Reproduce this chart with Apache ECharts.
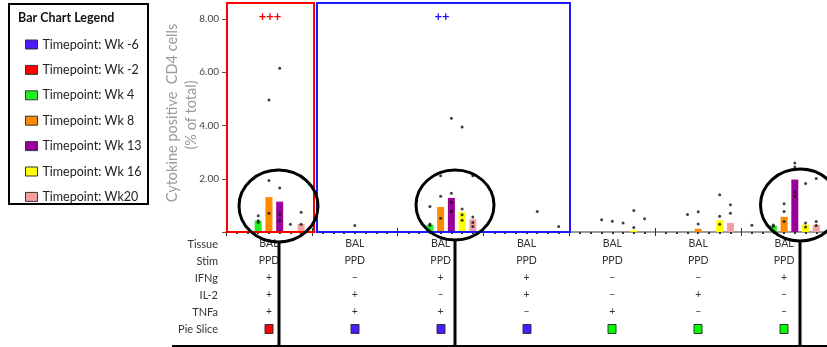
<!DOCTYPE html>
<html><head><meta charset="utf-8">
<script src="https://cdn.jsdelivr.net/npm/echarts@6/dist/echarts.min.js"></script>
<style>html,body{margin:0;padding:0;background:#fff}#c{width:827px;height:347px}</style>
</head><body><div id="c"></div>
<script>
// ---- data ----
const timepoints = ['Timepoint: Wk -6','Timepoint: Wk -2','Timepoint: Wk 4','Timepoint: Wk 8','Timepoint: Wk 13','Timepoint: Wk 16','Timepoint: Wk20'];
const groupCount = 7;
// bar (median) values per group
const medWkM6 = [0,0,0,0,0,0,0];
const medWkM2 = [0,0,0,0,0,0,0];
const medWk4  = [0.43,0,0.27,0,0,0,0.24];
const medWk8  = [1.31,0,0.94,0,0,0.12,0.57];
const medWk13 = [1.14,0,1.28,0,0,0,1.97];
const medWk16 = [0,0,0.75,0,0.06,0.44,0.27];
const medWk20 = [0.30,0,0.48,0,0,0.34,0.27];
// individual points per group
const dotsWkM6 = [[],[],[],[],[],[],[0.25]];
const dotsWkM2 = [[],[],[],[],[],[],[]];
const dotsWk4  = [[0.61,0.42,0.36],[],[0.96,0.30,0.25],[],[0.46],[0.66],[0.26,0.22]];
const dotsWk8  = [[4.96,1.93,0.70],[0.24],[2.11,1.34,0.52],[],[0.40],[0.76,0.30],[1.06,0.77,0.39]];
const dotsWk13 = [[6.15,1.65,0.67,0.42],[],[4.27,1.46,1.12,0.77],[0.77],[0.34],[],[2.59,2.44,1.50,1.34]];
const dotsWk16 = [[0.29],[],[3.94,0.86,0.65,0.44],[],[0.81,0.17],[1.40,0.59,0.29],[1.82,0.34,0.19]];
const dotsWk20 = [[0.74,0.29],[],[2.11,0.56,0.36,0.21],[0.21],[0.50],[1.02,0.70],[2.01,0.39,0.24]];
const yTicks = [0,2,4,6,8];
// table
const rowLabels = ['Tissue','Stim','IFNg','IL-2','TNFa','Pie Slice'];
const tissueRow = ['BAL','BAL','BAL','BAL','BAL','BAL','BAL'];
const stimRow   = ['PPD','PPD','PPD','PPD','PPD','PPD','PPD'];
const ifngRow   = ['+','–','+','+','–','–','+'];
const il2Row    = ['+','+','–','+','–','+','–'];
const tnfaRow   = ['+','+','+','–','+','–','–'];
const pieRow    = ['red','blue','blue','blue','green','green','green'];

// ---- styles ----
const tpColors = ['#4a1cff','#ff0000','#22ee22','#ff8a00','#990099','#ffff00','#f5a0a0'];
const pieColors = {red:'#ff0000', blue:'#4a1cff', green:'#00ff00'};
const FONT = 'Lato, "Open Sans", sans-serif';
const slotsPerGroup = 8;

const meds = [medWkM6, medWkM2, medWk4, medWk8, medWk13, medWk16, medWk20];
const dots = [dotsWkM6, dotsWkM2, dotsWk4, dotsWk8, dotsWk13, dotsWk16, dotsWk20];

const series = [];
timepoints.forEach((tp, i) => {
  const d = [];
  meds[i].forEach((v, g) => { if (v > 0) d.push([g*slotsPerGroup + i + 1, v]); });
  series.push({
    name: tp, type: 'bar', data: d, barWidth: 7, barGap: '-100%',
    itemStyle: { color: tpColors[i] }, z: 3
  });
});
const dotData = [];
dots.forEach((arr, i) => arr.forEach((vals, g) => vals.forEach(v => dotData.push([g*slotsPerGroup + i + 1, v]))));
series.push({
  name: 'points', type: 'scatter', data: dotData, symbolSize: 3,
  itemStyle: { color: '#111' }, z: 5, silent: true
});

const chart = echarts.init(document.getElementById('c'), null, {renderer: 'canvas'});
const xMax = groupCount * slotsPerGroup;
chart.setOption({
  animation: false,
  backgroundColor: '#fff',
  grid: { left: 226, right: 0, top: 19, bottom: 115, containLabel: false },
  legend: {
    data: timepoints, orient: 'vertical', left: 20, top: 33,
    itemWidth: 12, itemHeight: 9, itemGap: 12.4, icon: 'rect',
    itemStyle: { borderColor: '#333', borderWidth: 1 },
    textStyle: { fontFamily: FONT, fontSize: 12.5, color: '#222' },
    selectedMode: false
  },
  xAxis: [{
    type: 'value', min: 0, max: xMax, interval: slotsPerGroup, position: 'bottom',
    axisLine: { show: true, onZero: false, lineStyle: { color: '#9a9a9a', width: 2 } },
    axisTick: { show: true, length: 4, lineStyle: { color: '#333', width: 1 } },
    minorTick: { show: true, splitNumber: slotsPerGroup, length: 2, lineStyle: { color: '#333', width: 2 } },
    axisLabel: { show: false }, splitLine: { show: false }, minorSplitLine: { show: false }
  }, {
    type: 'value', min: 0, max: xMax, interval: slotsPerGroup, position: 'bottom', offset: 0,
    axisLine: { show: false },
    axisTick: { show: true, inside: true, length: 4, lineStyle: { color: '#333', width: 1 } },
    axisLabel: { show: false }, splitLine: { show: false }
  }],
  yAxis: {
    type: 'value', min: yTicks[0], max: yTicks[yTicks.length-1], interval: 2,
    axisLine: { show: true, lineStyle: { color: '#9a9a9a' } },
    axisTick: { show: true, length: 4, lineStyle: { color: '#555' } },
    axisLabel: { fontFamily: FONT, fontSize: 10, color: '#444', margin: 7,
      formatter: v => v === 0 ? '' : v.toFixed(2) },
    splitLine: { show: false }
  },
  series: series
});

// ---- annotations & table ----
const colX = g => chart.convertToPixel({xAxisIndex: 0}, g*slotsPerGroup + slotsPerGroup/2);
const g = [];
// legend box + title
g.push({ type: 'rect', shape: { x: 9, y: 4, width: 139, height: 200 }, style: { fill: 'none', stroke: '#000', lineWidth: 2 }, z: 10 });
g.push({ type: 'text', x: 18, y: 18, style: { text: 'Bar Chart Legend', font: 'bold 12.5px ' + FONT, fill: '#111', align: 'left', verticalAlign: 'middle' }, z: 10 });
// y axis title
g.push({ type: 'text', x: 172, y: 113, rotation: Math.PI/2, style: { text: 'Cytokine positive  CD4 cells', font: '14.5px ' + FONT, fill: '#9a9a9a', align: 'center', verticalAlign: 'middle' }, z: 10 });
g.push({ type: 'text', x: 191, y: 115, rotation: Math.PI/2, style: { text: '(% of total)', font: '14.5px ' + FONT, fill: '#9a9a9a', align: 'center', verticalAlign: 'middle' }, z: 10 });
// boxes
g.push({ type: 'rect', shape: { x: 227, y: 3, width: 87, height: 229 }, style: { fill: 'none', stroke: '#ff0000', lineWidth: 2 }, z: 10 });
g.push({ type: 'rect', shape: { x: 317, y: 3, width: 253, height: 229 }, style: { fill: 'none', stroke: '#1a1aff', lineWidth: 2 }, z: 10 });
g.push({ type: 'text', x: 270, y: 17, style: { text: '+++', font: 'bold 13px ' + FONT, fill: '#ff0000', align: 'center', verticalAlign: 'middle' }, z: 10 });
g.push({ type: 'text', x: 442, y: 17, style: { text: '++', font: 'bold 13px ' + FONT, fill: '#1a1aff', align: 'center', verticalAlign: 'middle' }, z: 10 });
// circles and lines
[[278.5, 206, 39.5, 36], [455, 205, 39, 35], [800, 205, 39.5, 36]].forEach(c => {
  g.push({ type: 'ellipse', shape: { cx: c[0], cy: c[1], rx: c[2], ry: c[3] }, style: { fill: 'none', stroke: '#000', lineWidth: 3 }, z: 11 });
  g.push({ type: 'line', shape: { x1: Math.round(c[0]), y1: c[1] + c[3], x2: Math.round(c[0]), y2: 347 }, style: { stroke: '#000', lineWidth: 3 }, z: 11 });
});
g.push({ type: 'line', shape: { x1: 172, y1: 346, x2: 827, y2: 346 }, style: { stroke: '#000', lineWidth: 2 }, z: 11 });
// table
const rowY = [244, 261, 278, 295, 312, 329];
rowLabels.forEach((lab, r) => {
  g.push({ type: 'text', x: 218, y: rowY[r], style: { text: lab, font: '11px ' + FONT, fill: '#333', align: 'right', verticalAlign: 'middle' }, z: 10 });
});
const textRows = [tissueRow, stimRow, ifngRow, il2Row, tnfaRow];
textRows.forEach((row, r) => row.forEach((t, c) => {
  g.push({ type: 'text', x: colX(c), y: rowY[r], style: { text: t, font: '10.5px ' + FONT, fill: '#333', align: 'center', verticalAlign: 'middle' }, z: 10 });
}));
pieRow.forEach((p, c) => {
  g.push({ type: 'rect', shape: { x: Math.round(colX(c)) - 4, y: rowY[5] - 4.5, width: 8, height: 9 }, style: { fill: pieColors[p], stroke: '#333', lineWidth: 1 }, z: 10 });
});
chart.setOption({ graphic: g });
</script></body></html>
